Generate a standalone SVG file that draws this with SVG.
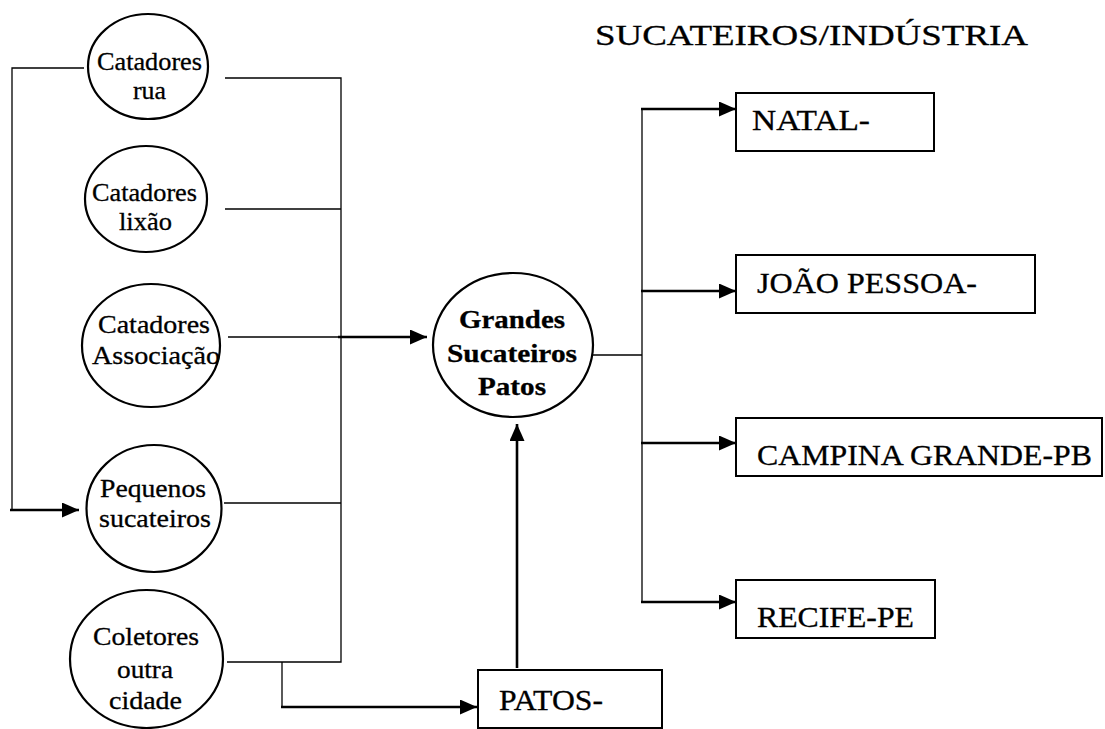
<svg xmlns="http://www.w3.org/2000/svg" width="1105" height="729" viewBox="0 0 1105 729" font-family="'Liberation Serif', 'DejaVu Serif', 'Times New Roman', serif">
<style>
  .bg{fill:#fff}
  .node{fill:#fff;stroke:#000;stroke-width:2.2}
  .box{fill:#fff;stroke:#000;stroke-width:2}
  .thin{fill:none;stroke:#000;stroke-width:1.3}
  .thick{fill:none;stroke:#000;stroke-width:2.6}
  text{fill:#000;stroke:#000;stroke-width:0.3}
  .t{font-size:25px;font-family:'Liberation Serif', 'DejaVu Serif', serif}
  .b{font-size:26px;font-weight:bold;font-family:'Liberation Serif', 'DejaVu Serif', serif}
  .l{font-size:30px;font-family:'Liberation Serif', 'DejaVu Serif', serif}
</style>
<defs>
  <marker id="ah" markerUnits="userSpaceOnUse" markerWidth="20" markerHeight="18" refX="17" refY="7.5" orient="auto">
    <path d="M0,0 L17,7.5 L0,15 Z" fill="#000"/>
  </marker>
</defs>
<rect class="bg" x="0" y="0" width="1105" height="729"/>

<g id="connectors">
  <path class="thin" d="M84,68 H12 V510"/>
  <path class="thick" d="M10,510 H79" marker-end="url(#ah)"/>
  <path class="thin" d="M225,78 H341 V662 H227"/>
  <path class="thin" d="M225,209 H341"/>
  <path class="thin" d="M228,337 H341"/>
  <path class="thin" d="M224,503 H341"/>
  <path class="thick" d="M338,337 H427" marker-end="url(#ah)"/>
  <path class="thin" d="M282,662 V707"/>
  <path class="thick" d="M281,707 H477" marker-end="url(#ah)"/>
  <path class="thick" d="M517,668 V424" marker-end="url(#ah)"/>
  <path class="thin" d="M593,355 H642"/>
  <path class="thin" d="M642,109 V602"/>
  <path class="thick" d="M641,109 H736" marker-end="url(#ah)"/>
  <path class="thick" d="M641,291 H736" marker-end="url(#ah)"/>
  <path class="thick" d="M641,443 H736" marker-end="url(#ah)"/>
  <path class="thick" d="M641,602 H736" marker-end="url(#ah)"/>
</g>

<g id="title">
  <text class="l" x="595" y="45" textLength="433" lengthAdjust="spacingAndGlyphs">SUCATEIROS/INDÚSTRIA</text>
</g>

<g id="catadores-rua">
  <ellipse class="node" cx="148" cy="66.5" rx="60" ry="52.5"/>
  <text class="t" x="97" y="70" textLength="105" lengthAdjust="spacingAndGlyphs">Catadores</text>
  <text class="t" x="133" y="99" textLength="33" lengthAdjust="spacingAndGlyphs">rua</text>
</g>

<g id="catadores-lixao">
  <ellipse class="node" cx="146" cy="199" rx="61" ry="53"/>
  <text class="t" x="92" y="201" textLength="105" lengthAdjust="spacingAndGlyphs">Catadores</text>
  <text class="t" x="119" y="230" textLength="53" lengthAdjust="spacingAndGlyphs">lixão</text>
</g>

<g id="catadores-associacao">
  <ellipse class="node" cx="151" cy="345.5" rx="69" ry="61.5"/>
  <text class="t" x="98" y="333" textLength="112" lengthAdjust="spacingAndGlyphs">Catadores</text>
  <text class="t" x="92" y="364" textLength="128" lengthAdjust="spacingAndGlyphs">Associação</text>
</g>

<g id="pequenos-sucateiros">
  <ellipse class="node" cx="154" cy="508.5" rx="67.5" ry="63.5"/>
  <text class="t" x="100" y="497" textLength="106" lengthAdjust="spacingAndGlyphs">Pequenos</text>
  <text class="t" x="99" y="527" textLength="112" lengthAdjust="spacingAndGlyphs">sucateiros</text>
</g>

<g id="coletores-outra-cidade">
  <ellipse class="node" cx="146.5" cy="659" rx="76.5" ry="69"/>
  <text class="t" x="93" y="645" textLength="106" lengthAdjust="spacingAndGlyphs">Coletores</text>
  <text class="t" x="117" y="678" textLength="56" lengthAdjust="spacingAndGlyphs">outra</text>
  <text class="t" x="109" y="709" textLength="73" lengthAdjust="spacingAndGlyphs">cidade</text>
</g>

<g id="grandes-sucateiros-patos">
  <ellipse class="node" cx="513" cy="345" rx="80" ry="72"/>
  <text class="b" x="459" y="328" textLength="106" lengthAdjust="spacingAndGlyphs">Grandes</text>
  <text class="b" x="447" y="362" textLength="130" lengthAdjust="spacingAndGlyphs">Sucateiros</text>
  <text class="b" x="478" y="395" textLength="68" lengthAdjust="spacingAndGlyphs">Patos</text>
</g>

<g id="patos">
  <rect class="box" x="478" y="670" width="184" height="58"/>
  <text class="l" x="499" y="710" textLength="104" lengthAdjust="spacingAndGlyphs">PATOS-</text>
</g>

<g id="natal">
  <rect class="box" x="736" y="93" width="198" height="58"/>
  <text class="l" x="752" y="130" textLength="118" lengthAdjust="spacingAndGlyphs">NATAL-</text>
</g>

<g id="joao-pessoa">
  <rect class="box" x="736" y="255" width="299" height="58"/>
  <text class="l" x="757" y="293" textLength="220" lengthAdjust="spacingAndGlyphs">JOÃO PESSOA-</text>
</g>

<g id="campina-grande">
  <rect class="box" x="736" y="418" width="366" height="58"/>
  <text class="l" x="757" y="465" textLength="335" lengthAdjust="spacingAndGlyphs">CAMPINA GRANDE-PB</text>
</g>

<g id="recife">
  <rect class="box" x="736" y="580" width="199" height="58"/>
  <text class="l" x="757" y="627" textLength="157" lengthAdjust="spacingAndGlyphs">RECIFE-PE</text>
</g>
</svg>
